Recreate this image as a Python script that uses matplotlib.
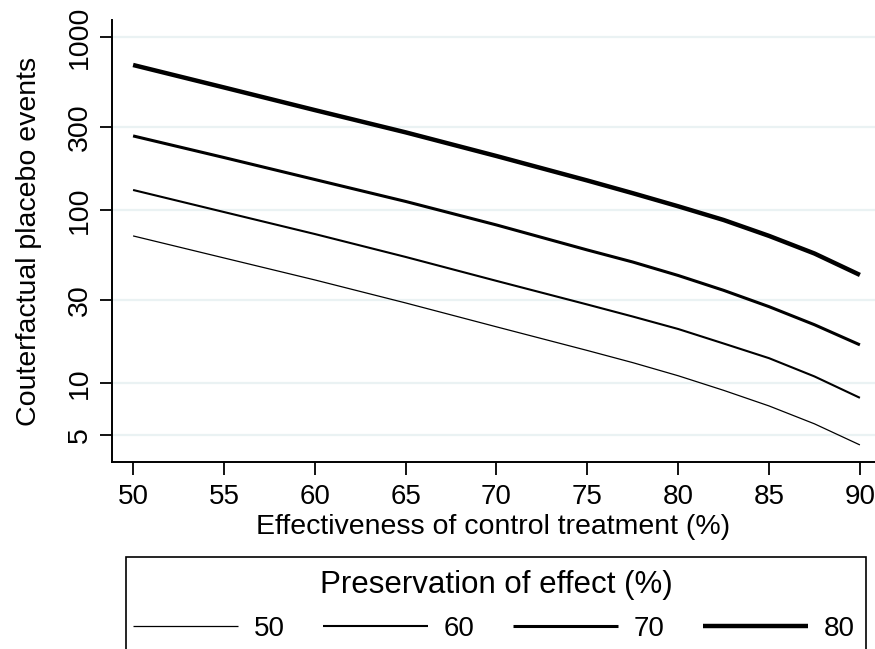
import numpy as np
import matplotlib
matplotlib.use('Agg')
import matplotlib.pyplot as plt
from matplotlib.patches import Rectangle

# 数据：横轴为对照治疗有效性（%），各条线为效应保留比例（%）
effectiveness = [50, 55, 60, 65, 70, 75, 77.5, 80, 82.5, 85, 87.5, 90]
events_p50 = [70.8, 52.8, 39.4, 29.0, 21.1, 15.4, 13.1, 11.0, 9.06, 7.36, 5.8, 4.38]
events_p60 = [130.5, 97.3, 72.6, 53.5, 38.9, 28.4, 24.2, 20.5, 16.9, 13.9, 10.9, 8.2]
events_p70 = [268, 201, 150, 112, 81.9, 58.7, 50.0, 41.8, 34.3, 27.6, 21.7, 16.6]
events_p80 = [689, 511, 378, 281, 205, 148, 125, 105, 87.5, 70.8, 56.0, 42.1]
preservation = ["50", "60", "70", "80"]
yticks = [5, 10, 30, 100, 300, 1000]
xticks = [50, 55, 60, 65, 70, 75, 80, 85, 90]

plt.rcParams['font.family'] = ['Liberation Sans', 'DejaVu Sans']

fig = plt.figure(figsize=(8.75, 6.49), dpi=100)
ax = fig.add_axes([112/875, 1-462/649, 1-112/875, (462-20)/649])

series = [events_p50, events_p60, events_p70, events_p80]
widths = [0.9, 1.5, 2.2, 3.2]
handles = []
for ys, lw in zip(series, widths):
    h, = ax.plot(effectiveness, ys, color='black', lw=lw,
                 solid_capstyle='butt', solid_joinstyle='round')
    handles.append(h)

ax.set_yscale('log')
ax.set_xlim(48.84, 90.83)
ax.set_ylim(3.49, 1254)
ax.set_yticks(yticks)
ax.set_yticklabels([str(v) for v in yticks], rotation=90, va='center', fontsize=20.5)
ax.minorticks_off()
ax.set_xticks(xticks)
ax.set_xticklabels([str(v) for v in xticks], fontsize=20)
ax.tick_params(axis='both', direction='out', length=9, width=1.3, color='black', pad=5)
ax.tick_params(axis='x', pad=7)
ax.grid(axis='y', color='#eaf2f3', lw=1.6)
ax.set_axisbelow(True)
for s in ['top', 'right']:
    ax.spines[s].set_visible(False)
for s in ['left', 'bottom']:
    ax.spines[s].set_linewidth(1.4)

ax.set_xlabel('Effectiveness of control treatment (%)', fontsize=20.5, labelpad=3)
ax.set_ylabel('Couterfactual placebo events', fontsize=20.5, labelpad=18)

# 图例外框（底部被图片裁掉）
fig.patches.append(Rectangle((126/875, -0.05), (866-126)/875, 1-557/649+0.05,
                             transform=fig.transFigure, fill=False,
                             edgecolor='black', lw=1.2))
fig.text(496/875, 1-585/649, 'Preservation of effect (%)', ha='center', va='center',
         fontsize=22.5)
fig.legend(handles, preservation, loc='center', bbox_to_anchor=(494/875, 1-629/649),
           ncol=4, frameon=False, fontsize=20, handlelength=3.78,
           handletextpad=0.55, columnspacing=1.4, borderpad=0)

fig.savefig('out.png', dpi=100)
